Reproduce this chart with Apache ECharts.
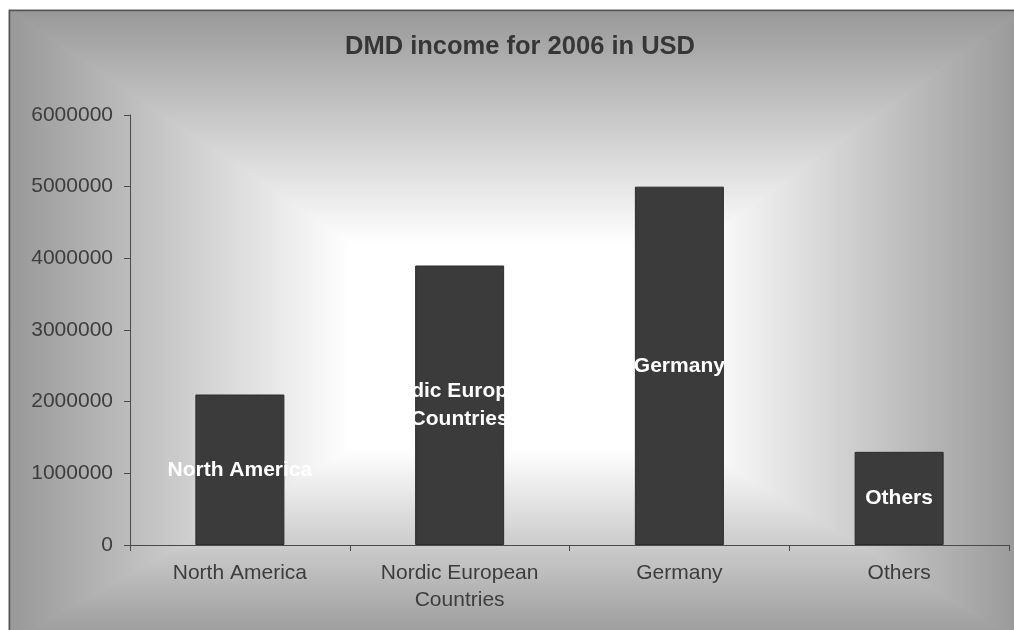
<!DOCTYPE html>
<html>
<head>
<meta charset="utf-8">
<script src="https://cdn.jsdelivr.net/npm/echarts@6/dist/echarts.min.js"></script>
<style>
  html, body { margin: 0; padding: 0; background: #fff; }
  #box { width: 1014px; height: 630px; }
</style>
</head>
<body>
<div id="box"></div>
<script>
// data
const titleText = 'DMD income for 2006 in USD';
const categories = ['North America', 'Nordic European\nCountries', 'Germany', 'Others'];
const income = [2100000, 3900000, 5000000, 1300000];
const yTicks = [0, 1000000, 2000000, 3000000, 4000000, 5000000, 6000000];

const font = 'Liberation Sans, Arial, sans-serif';
const edge = '#989898';

// chart area fill: grey edges fading to a white rectangle in the middle
const x0 = 9, y0 = 10, x1 = 1022, y1 = 642;   // outer box
const px0 = 350, py0 = 243, px1 = 700, py1 = 450; // white core
function grad(ax, ay, bx, by) {
  return {
    type: 'linear', x: ax, y: ay, x2: bx, y2: by, global: true,
    colorStops: [{ offset: 0, color: edge }, { offset: 1, color: '#ffffff' }]
  };
}
function poly(pts, g) {
  return { type: 'polygon', z: -100, silent: true, shape: { points: pts }, style: { fill: g, stroke: g, lineWidth: 1 } };
}

let myecharts = echarts.init(document.getElementById('box'));
let options = {
  animation: false,
  graphic: {
    elements: [
      {
        type: 'rect', z: -101, silent: true,
        shape: { x: px0 - 1, y: py0 - 1, width: px1 - px0 + 2, height: py1 - py0 + 2 },
        style: { fill: '#ffffff' }
      },
      poly([[x0, y0], [x1, y0], [px1, py0], [px0, py0]], grad(0, y0, 0, py0)),
      poly([[x0, y1], [x1, y1], [px1, py1], [px0, py1]], grad(0, y1, 0, py1)),
      poly([[x0, y0], [px0, py0], [px0, py1], [x0, y1]], grad(x0, 0, px0, 0)),
      poly([[x1, y0], [px1, py0], [px1, py1], [x1, y1]], grad(x1, 0, px1, 0)),
      {
        type: 'rect', z: -99, silent: true,
        shape: { x: x0 + 0.5, y: y0 + 0.5, width: 1200, height: 800 },
        style: { fill: 'none', stroke: '#555555', lineWidth: 1.5 }
      }
    ]
  },
  title: {
    text: titleText,
    left: 340,
    top: 29,
    textStyle: { fontFamily: font, fontSize: 25.5, fontWeight: 'bold', color: '#363636' }
  },
  grid: { left: 130, right: 5, top: 115, bottom: 85, containLabel: false },
  xAxis: {
    type: 'category',
    data: categories,
    axisLine: { lineStyle: { color: '#4a4a4a', width: 1 } },
    axisTick: { show: true, length: 6, lineStyle: { color: '#4a4a4a' } },
    axisLabel: { fontFamily: font, fontSize: 21, lineHeight: 27, color: '#3d3d3d', margin: 15, interval: 0 }
  },
  yAxis: {
    type: 'value',
    min: yTicks[0],
    max: yTicks[yTicks.length - 1],
    interval: 1000000,
    axisLine: { show: true, lineStyle: { color: '#4a4a4a', width: 1 } },
    axisTick: { show: true, length: 6, lineStyle: { color: '#4a4a4a' } },
    splitLine: { show: false },
    axisLabel: {
      fontFamily: font, fontSize: 21, color: '#3d3d3d', margin: 17,
      formatter: function (v) { return String(v); }
    }
  },
  series: [{
    type: 'bar',
    data: income,
    barWidth: 89,
    itemStyle: { color: '#3b3b3b', borderColor: '#2c2c2c', borderWidth: 1 },
    label: {
      show: true,
      position: 'inside',
      formatter: '{b}',
      fontFamily: font,
      fontSize: 21,
      fontWeight: 'bold',
      lineHeight: 28,
      color: '#ffffff',
      textBorderWidth: 0
    }
  }]
};
myecharts.setOption(options);
</script>
</body>
</html>
